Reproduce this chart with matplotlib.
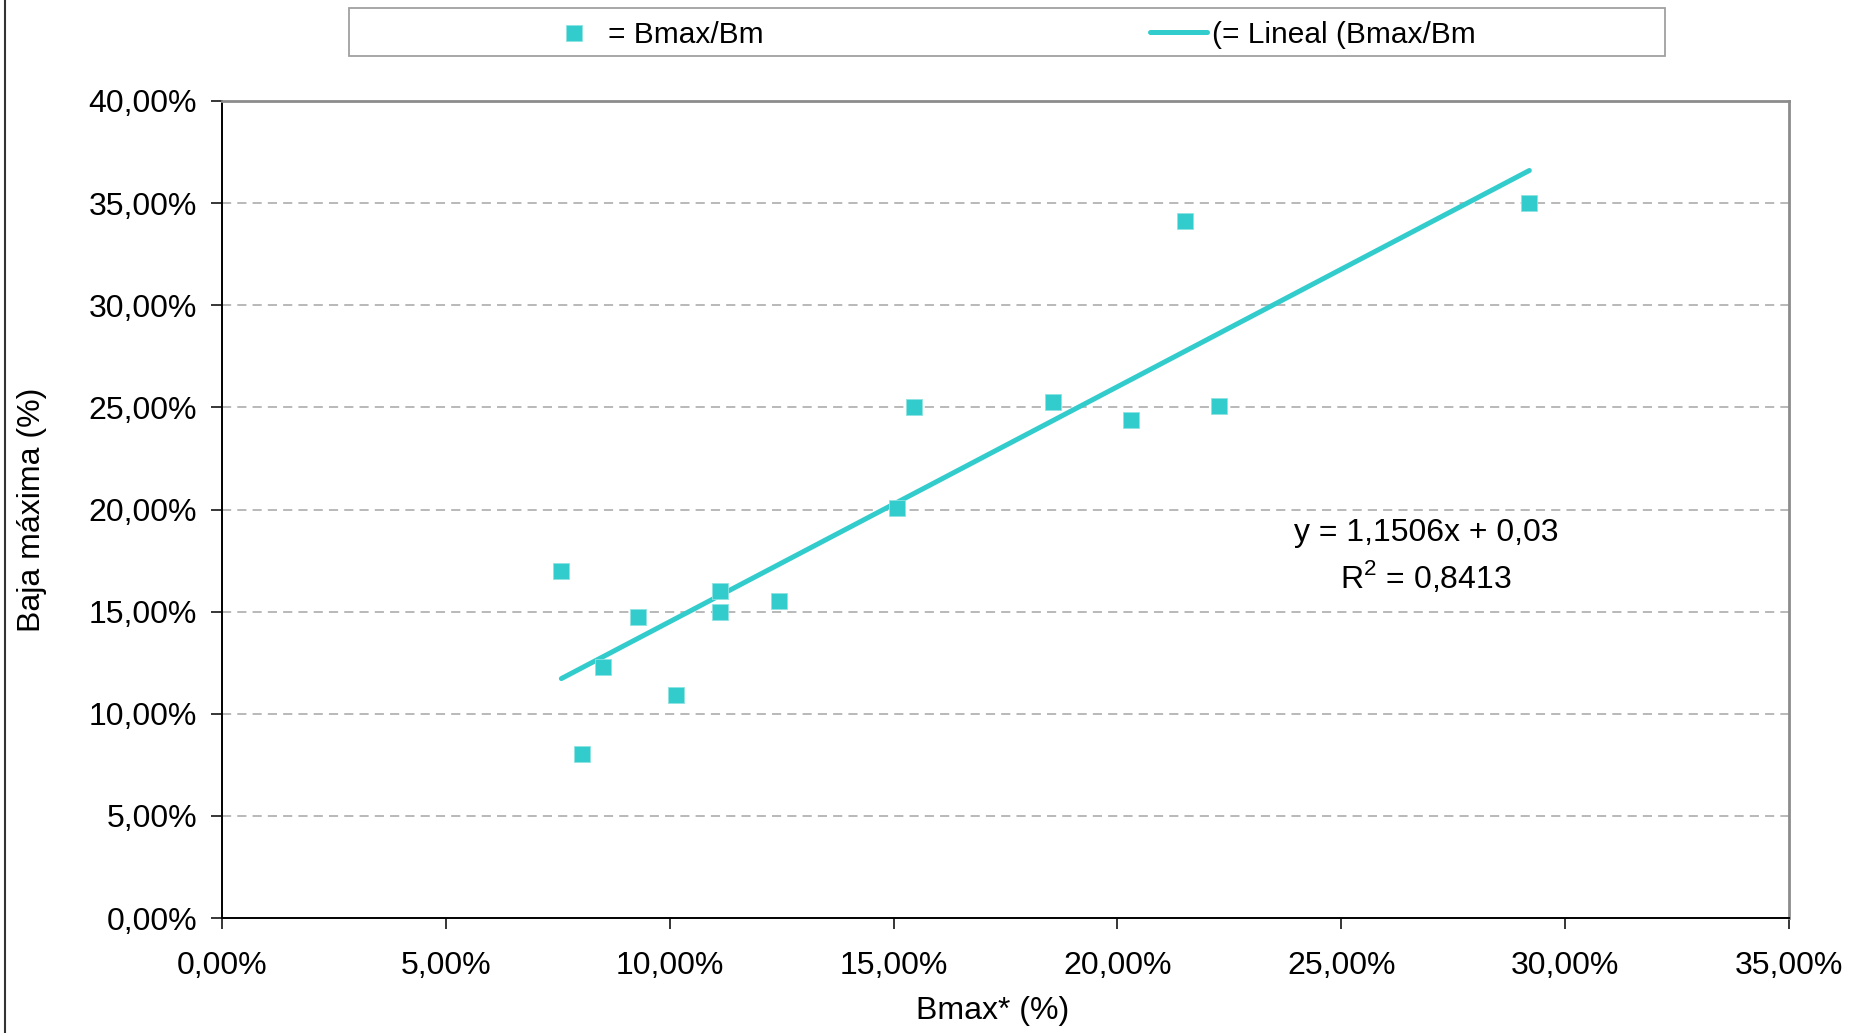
import numpy as np
import matplotlib.pyplot as plt
from matplotlib.lines import Line2D
from matplotlib.patches import Rectangle
from matplotlib.ticker import FuncFormatter, MultipleLocator

plt.rcParams['font.family'] = ['Liberation Sans', 'DejaVu Sans']
plt.rcParams['mathtext.fontset'] = 'custom'
plt.rcParams['mathtext.rm'] = 'Liberation Sans'

# data (fractions)
bmax_star = [0.0758, 0.0803, 0.0851, 0.0930, 0.1015, 0.1113, 0.1113, 0.1243,
             0.1508, 0.1545, 0.1857, 0.2030, 0.2152, 0.2226, 0.2920]
baja_maxima = [0.1701, 0.0801, 0.1231, 0.1475, 0.1091, 0.1602, 0.1498, 0.1550,
               0.2009, 0.2502, 0.2525, 0.2438, 0.3414, 0.2508, 0.3501]

# trend line as stated on the chart
slope = 1.1506
intercept = 0.03
r2 = 0.8413

teal = '#33CCCC'
fs = 23
W, H = 1859, 1033

fig = plt.figure(figsize=(W / 100, H / 100), dpi=100, facecolor='white')
ax = fig.add_axes([222 / W, 1 - 918 / H, (1789 - 222) / W, (918 - 101) / H])

pct = FuncFormatter(lambda v, _: f"{v * 100:.2f}%".replace('.', ','))

ax.set_xlim(0, 0.35)
ax.set_ylim(0, 0.40)
ax.xaxis.set_major_locator(MultipleLocator(0.05))
ax.yaxis.set_major_locator(MultipleLocator(0.05))
ax.xaxis.set_major_formatter(pct)
ax.yaxis.set_major_formatter(pct)
ax.tick_params(direction='out', length=8, width=1.1, labelsize=fs, color='black')
ax.tick_params(axis='y', pad=10)
ax.tick_params(axis='x', pad=16)

ax.yaxis.grid(True, color='#A6A6A6', linestyle=(0, (6, 4)), linewidth=1.1)
ax.set_axisbelow(True)
for s in ['left', 'bottom']:
    ax.spines[s].set_color('black')
    ax.spines[s].set_linewidth(1.4)
for s in ['top', 'right']:
    ax.spines[s].set_color('#8C8C8C')
    ax.spines[s].set_linewidth(2)

# trend line
xs = np.array([min(bmax_star), max(bmax_star)])
ax.plot(xs, slope * xs + intercept, color=teal, linewidth=3.6, solid_capstyle='round', zorder=3)

# points
ax.plot(bmax_star, baja_maxima, linestyle='none', marker='s', markersize=11.5,
        markerfacecolor=teal, markeredgecolor='#8FE3E3', markeredgewidth=0.6, zorder=4)

# equation
ax.text(1426 / W, 1 - 533 / H, f"y = {slope:.4f}x + {intercept:.2f}".replace('.', ','),
        transform=fig.transFigure, ha='center', va='center', fontsize=fs)
ax.text(1426 / W, 1 - 577 / H, r"R$^{\mathregular{2}}$ = " + f"{r2:.4f}".replace('.', ','),
        transform=fig.transFigure, ha='center', va='center', fontsize=fs)

# axis titles
fig.text(32 / W, 1 - 510 / H, "Baja máxima (%)", rotation=90, ha='center', va='center', fontsize=fs)
fig.text(993 / W, 1 - 1011 / H, "Bmax* (%)", ha='center', va='center', fontsize=fs)

# legend box
fig.add_artist(Rectangle((349 / W, 1 - 56 / H), (1665 - 349) / W, (56 - 8) / H,
                         transform=fig.transFigure, facecolor='white', edgecolor='#A0A0A0', linewidth=1.3))
fig.add_artist(Line2D([574 / W], [1 - 33 / H], transform=fig.transFigure, linestyle='none',
                      marker='s', markersize=11.5, markerfacecolor=teal, markeredgecolor='#8FE3E3',
                      markeredgewidth=0.6))
fig.text(608 / W, 1 - 35 / H, "= Bmax/Bm", ha='left', va='center', fontsize=21.5)
fig.add_artist(Line2D([1150 / W, 1207 / W], [1 - 32 / H, 1 - 32 / H], transform=fig.transFigure,
                      color=teal, linewidth=3.6, solid_capstyle='round'))
fig.text(1212 / W, 1 - 35 / H, "(= Lineal (Bmax/Bm", ha='left', va='center', fontsize=21.5)

# chart frame edge on the left
fig.add_artist(Line2D([5 / W, 5 / W], [0, 1], transform=fig.transFigure, color='#333333', linewidth=1.5))

fig.savefig('out.png', dpi=100, facecolor='white')
